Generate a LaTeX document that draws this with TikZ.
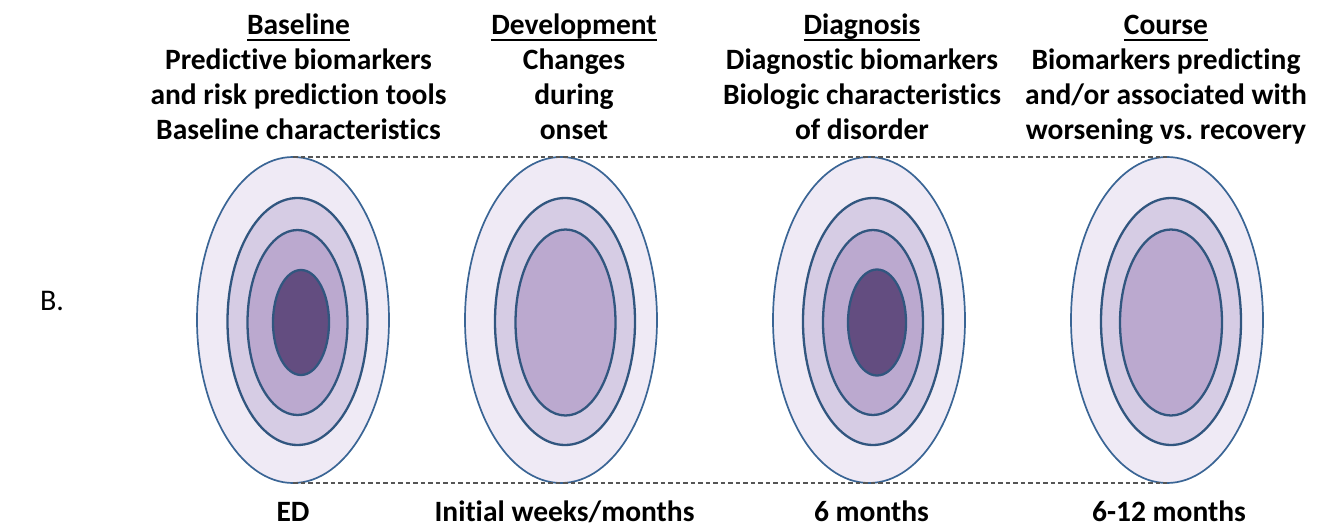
\documentclass[tikz,border=0pt]{standalone}
\usepackage{fontspec}
\setmainfont[Ligatures=NoCommon]{Carlito}
\frenchspacing
\usetikzlibrary{shapes.geometric}
\definecolor{ringA}{HTML}{EFEAF5}
\definecolor{ringB}{HTML}{D6CCE4}
\definecolor{ringC}{HTML}{BBA9CF}
\definecolor{ringD}{HTML}{634D80}
\definecolor{edgeblue}{HTML}{3A6595}
\definecolor{dashgray}{HTML}{555555}
\newcommand\hdrf{\fontsize{29.5pt}{35pt}\selectfont\bfseries}
\newcommand\lblf{\fontsize{30pt}{35pt}\selectfont}
\begin{document}
\begin{tikzpicture}[x=1pt,y=-1pt,
  txt/.style={inner sep=0pt, outer sep=0pt, anchor=base, font=\hdrf},
  ovl/.style={ellipse, inner sep=0pt, outer sep=0pt},
  outerring/.style={ovl, draw=edgeblue, line width=1.7pt, fill=ringA},
  midring/.style={ovl, draw=edgeblue!85!black, line width=2.3pt, fill=ringB},
  thirdring/.style={ovl, draw=edgeblue!85!black, line width=2.3pt, fill=ringC},
  corering/.style={ovl, draw=edgeblue!85!black, line width=2.3pt, fill=ringD},
  guide/.style={draw=dashgray, line width=1.3pt, dash pattern=on 4.5pt off 3pt},
  uline/.style={line width=2pt}]
\useasboundingbox (0,0) rectangle (1320,529);

% label B.
\node[txt, font=\lblf] (lblB) at (52,311) {B.};

% ellipses: column 1
\node[outerring, minimum width=192pt, minimum height=326pt] (e1o) at (293,320) {};
\node[midring, minimum width=140pt, minimum height=247pt] (e1b) at (297.5,321.5) {};
\node[thirdring, minimum width=100pt, minimum height=185pt] (e1c) at (297.5,322.5) {};
\node[corering, minimum width=56pt, minimum height=105pt] (e1d) at (301,322.5) {};
% column 2
\node[outerring, minimum width=192pt, minimum height=326pt] (e2o) at (561,320) {};
\node[midring, minimum width=140pt, minimum height=247pt] (e2b) at (565,321.5) {};
\node[thirdring, minimum width=100pt, minimum height=186pt] (e2c) at (565.5,322.5) {};
% column 3
\node[outerring, minimum width=192pt, minimum height=326pt] (e3o) at (869,320) {};
\node[midring, minimum width=140pt, minimum height=247pt] (e3b) at (873,321.5) {};
\node[thirdring, minimum width=100pt, minimum height=185pt] (e3c) at (873,322.5) {};
\node[corering, minimum width=58pt, minimum height=106pt] (e3d) at (877,322.5) {};
% column 4
\node[outerring, minimum width=192pt, minimum height=326pt] (e4o) at (1167,320) {};
\node[midring, minimum width=140pt, minimum height=247pt] (e4b) at (1171,321.5) {};
\node[thirdring, minimum width=102pt, minimum height=186pt] (e4c) at (1171,322.5) {};

% dashed guide lines
\draw[guide] (e1o.north) -- (e4o.north);
\draw[guide] (e1o.south) -- (e4o.south);

% column 1 text
\node[txt] (h1) at (298.5,35) {Baseline};
\node[txt] (h1a) at (298.5,70) {Predictive biomarkers};
\node[txt] (h1b) at (298.5,105) {and risk prediction tools};
\node[txt] (h1c) at (298.5,140) {Baseline characteristics};
% column 2 text
\node[txt] (h2) at (574,35) {Development};
\node[txt] (h2a) at (574,70) {Changes};
\node[txt] (h2b) at (574,105) {during};
\node[txt] (h2c) at (574,140) {onset};
% column 3 text
\node[txt] (h3) at (862,35) {Diagnosis};
\node[txt] (h3a) at (862,70) {Diagnostic biomarkers};
\node[txt] (h3b) at (862,105) {Biologic characteristics};
\node[txt] (h3c) at (862,140) {of disorder};
% column 4 text
\node[txt] (h4) at (1166,35) {Course};
\node[txt] (h4a) at (1166,70) {Biomarkers predicting};
\node[txt] (h4b) at (1166,105) {and/or associated with};
\node[txt] (h4c) at (1166,140) {worsening vs. recovery};

% underlines
\foreach \h in {h1,h2,h3,h4}
  \draw[uline] ([yshift=-5pt]\h.base west) -- ([yshift=-5pt]\h.base east);

% bottom labels
\node[txt] (t1) at (293,521) {ED};
\node[txt] (t2) at (564.5,521) {Initial weeks/months};
\node[txt] (t3) at (871.5,521) {6 months};
\node[txt] (t4) at (1169,521) {6-12 months};
\end{tikzpicture}
\end{document}
